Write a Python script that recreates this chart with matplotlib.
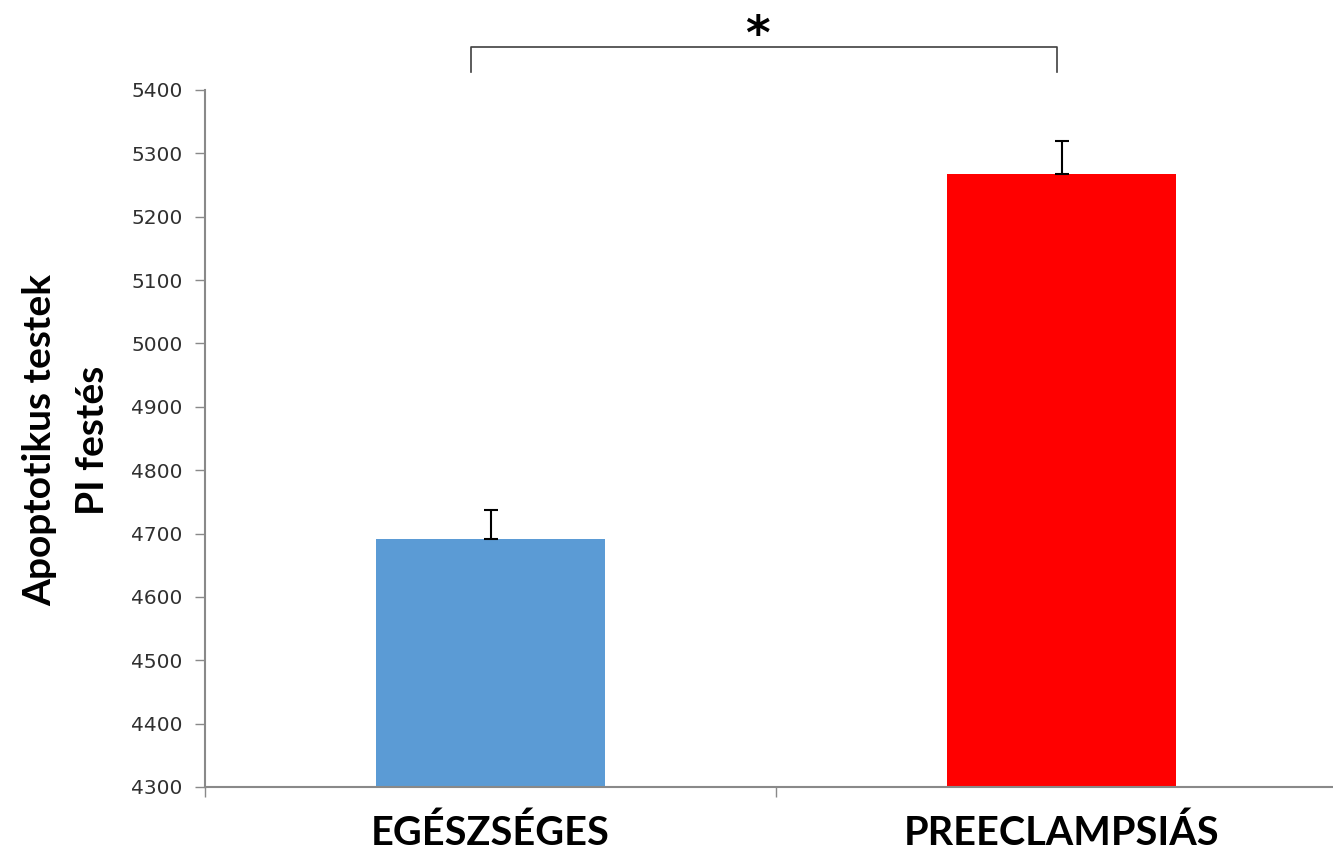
import matplotlib
matplotlib.use("Agg")
import matplotlib.pyplot as plt

categories = ["EGÉSZSÉGES", "PREECLAMPSIÁS"]
values = [4691, 5268]
errors = [46, 52]
colors = ["#5b9bd5", "#ff0000"]
yticks = [4300, 4400, 4500, 4600, 4700, 4800, 4900, 5000, 5100, 5200, 5300, 5400]

fig = plt.figure(figsize=(13.33, 8.55), dpi=100)
ax = fig.add_axes([205/1333, 1-787/855, 1142/1333, (787-90)/855])

x = list(range(len(categories)))
ax.bar(x, values, width=0.4, color=colors, zorder=2)
ax.errorbar(x, values, yerr=[[0]*len(errors), errors], fmt="none",
            ecolor="black", elinewidth=1.5, capsize=5, capthick=1.5, zorder=3)

ax.set_xlim(-0.5, 1.5)
ax.set_ylim(4300, 5400)
ax.set_yticks(yticks)
ax.set_yticklabels([str(t) for t in yticks], fontsize=14.5, color="#303030",
                   family="DejaVu Sans")
ax.set_xticks(x)
ax.set_xticklabels(categories, fontsize=28.5, fontweight="bold",
                   family=["Lato", "DejaVu Sans"])
ax.set_xticks([-0.5, 0.5, 1.5], minor=True)
ax.tick_params(axis="x", which="major", length=0, pad=20)
ax.tick_params(axis="x", which="minor", length=7, color="#898989", width=1)
ax.tick_params(axis="y", length=7, color="#898989", width=1, pad=9)

for s in ["top", "right"]:
    ax.spines[s].set_visible(False)
for s in ["left", "bottom"]:
    ax.spines[s].set_color("#898989")
    ax.spines[s].set_linewidth(1.5)

fig.text(66/1333, 1-440/855, "Apoptotikus testek\nPI festés", fontsize=28,
         fontweight="bold", family=["Lato", "DejaVu Sans"], rotation=90,
         ha="center", va="center", linespacing=1.6, multialignment="center")

# significance bracket (figure pixel coordinates)
bx0, bx1 = 471/1333, 1057/1333
by_top, by_bot = 1-47/855, 1-72/855
fig.add_artist(plt.Line2D([bx0, bx0, bx1, bx1], [by_bot, by_top, by_top, by_bot],
                          transform=fig.transFigure, color="#404040", lw=1.2))
fig.text(757/1333, 1-36/855, "*", fontsize=34, fontweight="bold",
         ha="center", va="center", family="DejaVu Sans")

fig.savefig("out.png", dpi=100, facecolor="white")
